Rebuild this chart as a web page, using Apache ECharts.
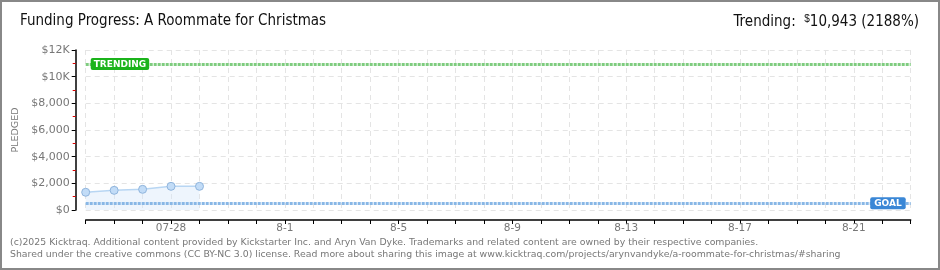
<!DOCTYPE html>
<html><head><meta charset="utf-8">
<script src="https://cdn.jsdelivr.net/npm/echarts@6/dist/echarts.min.js"></script>
<style>html,body{margin:0;padding:0;background:#fff}#c{width:940px;height:270px;box-sizing:border-box;}</style>
</head><body><div id="c"></div>
<script>
const dates = ['07-25','07-26','07-27','07-28','07-29','07-30','07-31','8-1','8-2','8-3','8-4','8-5','8-6','8-7','8-8','8-9','8-10','8-11','8-12','8-13','8-14','8-15','8-16','8-17','8-18','8-19','8-20','8-21','8-22','8-23'];
const pledged = [1330, 1475, 1550, 1775, 1775];
const goal = 500;
const trending = 10943;
const trendingPct = 2188;
const yTicks = [0, 2000, 4000, 6000, 8000, 10000, 12000];
const labelDates = ['07-28','8-1','8-5','8-9','8-13','8-17','8-21'];

const chart = echarts.init(document.getElementById('c'));
const fmt = v => v >= 10000 ? '$' + (v/1000) + 'K' : '$' + v.toLocaleString('en-US');
const titleFont = '15px "Liberation Sans Narrow", "DejaVu Sans Condensed", sans-serif';
chart.setOption({
  animation: false,
  graphic: [
    {type:'rect', shape:{x:1,y:1,width:938,height:268}, style:{fill:'none', stroke:'#888', lineWidth:2}, silent:true},
    {type:'text', left:20, top:14, style:{text:'Funding Progress: A Roommate for Christmas', font:titleFont, fill:'#111'}},
    {type:'text', right:21, top:14, style:{
      text:'Trending:  {s|$}' + trending.toLocaleString('en-US') + ' (' + trendingPct + '%)',
      font:titleFont, fill:'#111',
      rich:{s:{fontSize:10, verticalAlign:'top', padding:[0,0,6,0], fontFamily:'"Liberation Sans Narrow", sans-serif', fill:'#111'}}}},
    {type:'text', left:10, top:238, style:{text:'(c)2025 Kicktraq. Additional content provided by Kickstarter Inc. and Aryn Van Dyke. Trademarks and related content are owned by their respective companies.', font:'9.35px "DejaVu Sans", sans-serif', fill:'#777'}},
    {type:'text', left:10, top:250, style:{text:'Shared under the creative commons (CC BY-NC 3.0) license. Read more about sharing this image at www.kicktraq.com/projects/arynvandyke/a-roommate-for-christmas/#sharing', font:'9.35px "DejaVu Sans", sans-serif', fill:'#777'}}
  ],
  grid: {left: 85.7, right: 29.3, top: 50, bottom: 60},
  xAxis: {
    type: 'category', data: dates, boundaryGap: false, offset: 10,
    axisLine: {onZero: false, lineStyle: {color: '#000', width: 1.5}},
    axisTick: {show: true, length: 4, interval: 0, lineStyle: {color: '#000'}},
    axisLabel: {interval: 0, color: '#777', fontSize: 10.5, fontFamily: '"DejaVu Sans", sans-serif', margin: 3,
      formatter: v => labelDates.includes(v) ? v : ''},
    splitLine: {show: true, interval: 0, lineStyle: {color: '#e4e4e4', type: [5,4]}}
  },
  yAxis: {
    type: 'value', min: 0, max: 12000, interval: 2000, offset: 10,
    name: 'PLEDGED', nameLocation: 'middle', nameGap: 50, nameRotate: 90,
    nameTextStyle: {color: '#777', fontSize: 9.5, fontFamily: '"DejaVu Sans", sans-serif'},
    axisLine: {show: true, onZero: false, lineStyle: {color: '#000', width: 1.5}},
    axisTick: {show: true, length: 4, lineStyle: {color: '#000'}},
    minorTick: {show: true, splitNumber: 2, length: 3, lineStyle: {color: '#dd0000'}},
    axisLabel: {color: '#777', fontSize: 11, fontFamily: '"DejaVu Sans", sans-serif', margin: 6, formatter: fmt},
    splitLine: {show: true, lineStyle: {color: '#e4e4e4', type: [5,4]}}
  },
  series: [{
    type: 'line', data: pledged, symbol: 'circle', symbolSize: 8,
    lineStyle: {color: '#b8d6f3', width: 1.5},
    itemStyle: {color: '#c2dcf7', borderColor: '#8fb4dc', borderWidth: 1},
    areaStyle: {color: 'rgba(214,231,250,0.6)'},
    z: 3,
    markLine: {
      silent: true, symbol: 'none',
      data: [
        {yAxis: trending, lineStyle: {color: '#7fcc7f', width: 3, type: [3,1]},
         label: {show: true, position: 'insideStartTop', formatter: 'TRENDING', distance: [5,-6],
           backgroundColor: '#1bb31b', color: '#fff', fontSize: 9, fontWeight: 'bold', fontFamily: '"DejaVu Sans", sans-serif',
           padding: [2,3,1,3], borderRadius: 2}},
        {yAxis: goal, lineStyle: {color: '#88b7e6', width: 3, type: [3,1]},
         label: {show: true, position: 'insideEndTop', formatter: 'GOAL', distance: [5,-6],
           backgroundColor: '#3a87d6', color: '#fff', fontSize: 9, fontWeight: 'bold', fontFamily: '"DejaVu Sans", sans-serif',
           padding: [2,4,1,4], borderRadius: 2}}
      ]
    }
  }]
});
</script></body></html>
